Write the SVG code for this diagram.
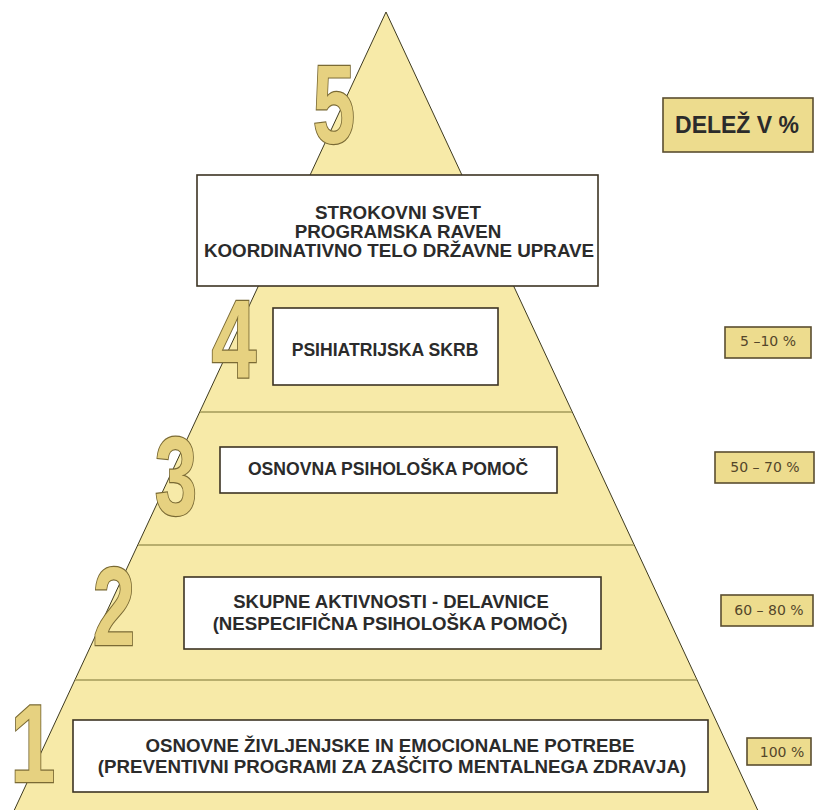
<svg xmlns="http://www.w3.org/2000/svg" width="815" height="810" viewBox="0 0 815 810">
<style>
.box{fill:#ffffff;stroke:#3c3424;stroke-width:1.6}
.t{font-family:"Liberation Sans",Arial,sans-serif;font-weight:bold;fill:#2b2b2b;text-anchor:middle}
.num{font-family:"Liberation Sans",Arial,sans-serif;font-weight:bold;font-size:112px;fill:#e6d180;stroke:#7a6a34;stroke-width:2.4;text-anchor:middle;paint-order:stroke}
.pbox{fill:#eddc8e;stroke:#5a4e30;stroke-width:1.6}
.pt{font-family:"DejaVu Sans",sans-serif;font-size:14px;fill:#54462a;text-anchor:middle}
.band{stroke:#a39a5a;stroke-width:1.6}
</style>
<rect width="815" height="810" fill="#ffffff"/>
<g id="pyramid">
<polygon points="386,12 760,815 12,815" fill="#f7eaa8" stroke="#3e3a20" stroke-width="1"/>
</g>
<g id="connectors">
<line class="band" x1="200" y1="412" x2="572" y2="412"/>
<line class="band" x1="138" y1="545" x2="634" y2="545"/>
<line class="band" x1="75" y1="680" x2="697" y2="680"/>
</g>
<g id="numbers">
<text class="num" transform="translate(334,143) scale(0.68,1)">5</text>
<text class="num" transform="translate(234,378) scale(0.72,1)">4</text>
<text class="num" transform="translate(176,515) scale(0.68,1)">3</text>
<text class="num" transform="translate(114,645) scale(0.68,1)">2</text>
<text class="num" transform="translate(33,782) scale(0.72,1)">1</text>
</g>
<g id="level5">
<rect class="box" x="197" y="175" width="401" height="111"/>
<text class="t" font-size="18.8" x="398" y="219">STROKOVNI SVET</text>
<text class="t" font-size="18.8" x="398" y="238">PROGRAMSKA RAVEN</text>
<text class="t" font-size="18.8" x="399" y="257">KOORDINATIVNO TELO DRŽAVNE UPRAVE</text>
</g>
<g id="level4">
<rect class="box" x="273" y="308" width="225" height="77"/>
<text class="t" font-size="17.6" x="385" y="356">PSIHIATRIJSKA SKRB</text>
</g>
<g id="level3">
<rect class="box" x="220" y="447" width="337" height="46"/>
<text class="t" font-size="17.6" x="388" y="475">OSNOVNA PSIHOLOŠKA POMOČ</text>
</g>
<g id="level2">
<rect class="box" x="184" y="577" width="417" height="72"/>
<text class="t" font-size="18.5" x="391" y="608">SKUPNE AKTIVNOSTI - DELAVNICE</text>
<text class="t" font-size="18.7" x="390" y="630">(NESPECIFIČNA PSIHOLOŠKA POMOČ)</text>
</g>
<g id="level1">
<rect class="box" x="73" y="720" width="635" height="72"/>
<text class="t" font-size="18.7" x="390" y="752">OSNOVNE ŽIVLJENJSKE IN EMOCIONALNE POTREBE</text>
<text class="t" font-size="18.7" x="392" y="773">(PREVENTIVNI PROGRAMI ZA ZAŠČITO MENTALNEGA ZDRAVJA)</text>
</g>
<g id="share-header">
<rect class="pbox" x="663" y="98" width="150" height="54"/>
<text class="t" font-size="23" x="737" y="133" fill="#2a2418">DELEŽ V %</text>
</g>
<g id="share4">
<rect class="pbox" x="725" y="327" width="86" height="31"/>
<text class="pt" x="768" y="346">5 –10 %</text>
</g>
<g id="share3">
<rect class="pbox" x="715" y="452" width="99" height="31"/>
<text class="pt" x="765" y="472">50 – 70 %</text>
</g>
<g id="share2">
<rect class="pbox" x="721" y="595" width="92" height="31"/>
<text class="pt" x="769" y="615">60 – 80 %</text>
</g>
<g id="share1">
<rect class="pbox" x="747" y="738" width="64" height="27"/>
<text class="pt" x="782" y="757">100 %</text>
</g>
</svg>
